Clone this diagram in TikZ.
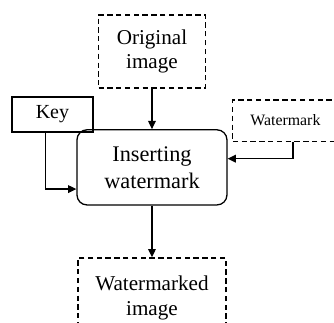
\documentclass[tikz,border=0pt]{standalone}
\usepackage{fontspec}
\setmainfont{Liberation Serif}
\usetikzlibrary{arrows.meta}
\begin{document}
\begin{tikzpicture}[line width=1.1pt,
    dashbox/.style={draw,dash pattern=on 4.5pt off 3pt,align=center,inner sep=0pt},
    solidbox/.style={draw,align=center,inner sep=0pt},
    flow/.style={-{Triangle[length=7pt,width=6.5pt]}}]
            \useasboundingbox (0,0) rectangle (10,9.641);
            \node(orig)[dashbox,minimum width=3.2cm,minimum height=2.19cm,font=\fontsize{18}{20.5}\selectfont] at (4.55,8.1){Original\\image};
            \node(key)[solidbox,minimum width=2.43cm,minimum height=1.05cm,font=\fontsize{17}{20}\selectfont] at (1.57,6.21){Key};
            \node(wm)[dashbox,minimum width=3.5cm,minimum height=1.23cm,font=\fontsize{13.5}{16}\selectfont] at (8.72,6.03){Watermark\hspace*{.35cm}};
            \node(ins)[solidbox,rounded corners=.3cm,minimum width=4.49cm,minimum height=2.25cm,font=\fontsize{19}{23}\selectfont] at (4.55,4.63){Inserting\\watermark};
            \node(out)[dashbox,minimum width=4.43cm,minimum height=2.4cm,font=\fontsize{18}{21}\selectfont] at (4.55,.72){Watermarked\\image};
            \draw[flow] (orig) -- (ins);
            \draw[flow] ([xshift=-.2cm]key.south) |- ([yshift=-.65cm]ins.west);
            \draw[flow] ([xshift=.05cm]wm.south) |- ([yshift=.26cm]ins.east);
            \draw[flow] (ins) -- (out);
        \end{tikzpicture}
\end{document}
